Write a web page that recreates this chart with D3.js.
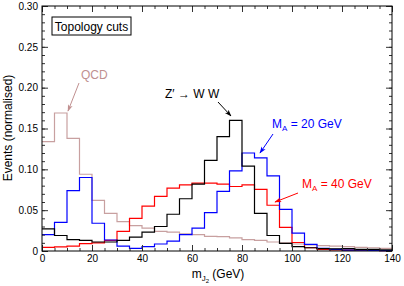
<!DOCTYPE html>
<html>
<head>
<meta charset="utf-8">
<script src="https://cdn.jsdelivr.net/npm/d3@7"></script>
<style>
body { margin: 0; background: #fff; }
svg { font-family: "Liberation Sans", Arial, sans-serif; }
</style>
</head>
<body>
<svg id="chart" width="404" height="286"></svg>
<script>
// bin edges 0..140 GeV, 5 GeV bins
const binEdges = d3.range(0, 145, 5)
const qcd  = [0.134,0.169,0.138,0.094,0.062,0.046,0.036,0.031,0.028,0.024,0.023,0.021,0.020,0.018,0.0175,0.016,0.014,0.013,0.011,0.010,0.0086,0.0075,0.0065,0.006,0.0053,0.0045,0.004,0.0033]
const zpww = [0.027,0.019,0.014,0.013,0.011,0.011,0.013,0.017,0.023,0.030,0.045,0.064,0.082,0.111,0.140,0.160,0.104,0.046,0.019,0.0094,0.0053,0.004,0.003,0.0025,0.003,0.002,0.002,0.0015]
const ma20 = [0.020,0.035,0.074,0.090,0.034,0.0135,0.006,0.0033,0.0053,0.0086,0.012,0.020,0.028,0.047,0.073,0.098,0.120,0.114,0.092,0.051,0.022,0.008,0.0033,0.002,0.001,0.001,0.0008,0.0005]
const ma40 = [0.0045,0.005,0.006,0.009,0.010,0.013,0.024,0.040,0.055,0.067,0.077,0.081,0.083,0.083,0.082,0.079,0.081,0.0755,0.056,0.029,0.0104,0.004,0.002,0.0015,0.001,0.001,0.0008,0.0005]
const xTicks = [0,20,40,60,80,100,120,140]
const yTicks = [0,0.05,0.10,0.15,0.20,0.25,0.30]

const margin = { top: 6, right: 12, bottom: 35, left: 42 }
const W = 404, H = 286
const svg = d3.select('#chart')

const x = d3.scaleLinear().domain([0, 140]).range([margin.left, W - margin.right])
const y = d3.scaleLinear().domain([0, 0.30]).range([H - margin.bottom, margin.top])

const defs = svg.append('defs')
function marker(id, color){
  defs.append('marker')
    .attr('id', id)
    .attr('viewBox', '0 0 10 10')
    .attr('refX', 9).attr('refY', 5)
    .attr('markerWidth', 7).attr('markerHeight', 7)
    .attr('markerUnits', 'userSpaceOnUse')
    .attr('orient', 'auto')
    .append('path')
      .attr('d', 'M0,1.5 L10,5 L0,8.5 L2.5,5 Z')
      .attr('fill', color)
}
marker('a-qcd', '#c09090')
marker('a-blk', '#000')
marker('a-blue', '#0000ff')
marker('a-red', '#ff0000')

// histograms
const line = d3.line()
  .x(d => x(d[0]))
  .y(d => y(d[1]))
  .curve(d3.curveStepAfter)

function hist(vals, color){
  const pts = vals.map((v, i) => [binEdges[i], v])
  pts.push([binEdges[vals.length], vals[vals.length - 1]])
  svg.append('path')
    .attr('d', line(pts))
    .attr('fill', 'none')
    .attr('stroke', color)
    .attr('stroke-width', 1.2)
}
hist(qcd, '#c8a0a0')
hist(ma40, '#ff0000')
hist(ma20, '#0000ff')
hist(zpww, '#000')

// axes, ticks inward on all sides
const x0 = x.range()[0], x1 = x.range()[1]
const y0 = y.range()[0], y1 = y.range()[1]
const minorX = d3.range(0, 141, 5)
const minorY = d3.range(0, 0.301, 0.01)
const yFmt = d => d === 0 ? '0' : d3.format('.2f')(d)

function axes(){
  const g = svg.append('g').attr('font-size', 12)
  g.append('g').attr('transform', `translate(0,${y0})`)
    .call(d3.axisBottom(x).tickValues(minorX).tickSize(-3).tickFormat(''))
  g.append('g').attr('transform', `translate(0,${y0})`)
    .call(d3.axisBottom(x).tickValues(xTicks).tickSize(-6).tickPadding(4).tickFormat(d3.format('d')))
  g.append('g').attr('transform', `translate(0,${y1})`)
    .call(d3.axisTop(x).tickValues(minorX).tickSize(-3).tickFormat(''))
  g.append('g').attr('transform', `translate(0,${y1})`)
    .call(d3.axisTop(x).tickValues(xTicks).tickSize(-6).tickFormat(''))
  g.append('g').attr('transform', `translate(${x0},0)`)
    .call(d3.axisLeft(y).tickValues(minorY).tickSize(-3).tickFormat(''))
  g.append('g').attr('transform', `translate(${x0},0)`)
    .call(d3.axisLeft(y).tickValues(yTicks).tickSize(-6).tickPadding(4).tickFormat(yFmt))
  g.append('g').attr('transform', `translate(${x1},0)`)
    .call(d3.axisRight(y).tickValues(minorY).tickSize(-3).tickFormat(''))
  g.append('g').attr('transform', `translate(${x1},0)`)
    .call(d3.axisRight(y).tickValues(yTicks).tickSize(-6).tickFormat(''))
  g.selectAll('.domain').remove()
  g.selectAll('text').attr('fill', '#000').attr('font-family', '"Liberation Sans", Arial, sans-serif')
  g.selectAll('line').attr('stroke', '#333')
}
axes()

svg.append('rect')
  .attr('x', x0).attr('y', y1)
  .attr('width', x1 - x0).attr('height', y0 - y1)
  .attr('fill', 'none').attr('stroke', '#000').attr('stroke-width', 1)

// axis titles
const xt = svg.append('text')
  .attr('x', 218).attr('y', 278)
  .attr('text-anchor', 'middle')
  .attr('font-size', 12)
xt.append('tspan').text('m')
xt.append('tspan').attr('font-size', 8).attr('dy', 3).text('J')
xt.append('tspan').attr('font-size', 6).attr('dy', 2).text('2')
xt.append('tspan').attr('dy', -5).text(' (GeV)')

svg.append('text')
  .attr('transform', 'translate(12,128) rotate(-90)')
  .attr('text-anchor', 'middle')
  .attr('font-size', 12)
  .text('Events (normalised)')

// label box
svg.append('rect')
  .attr('x', 52).attr('y', 17).attr('width', 79).attr('height', 18)
  .attr('fill', '#fff').attr('stroke', '#000').attr('stroke-width', 1)
svg.append('text')
  .attr('x', 91.5).attr('y', 30.5)
  .attr('text-anchor', 'middle')
  .attr('font-size', 12)
  .text('Topology cuts')

// annotations
function arrow(xa, ya, xb, yb, color, id){
  svg.append('line')
    .attr('x1', xa).attr('y1', ya).attr('x2', xb).attr('y2', yb)
    .attr('stroke', color).attr('stroke-width', 1)
    .attr('marker-end', `url(#${id})`)
}

svg.append('text').attr('x', 81).attr('y', 79).attr('font-size', 12)
  .attr('fill', '#c09090').text('QCD')
arrow(79, 83, 68, 111, '#c09090', 'a-qcd')

svg.append('text').attr('x', 165).attr('y', 98).attr('font-size', 12)
  .text('Z\u2032 \u2192 W W')
arrow(218, 102, 231, 116, '#000', 'a-blk')

function massLabel(xp, yp, txt, color){
  const t = svg.append('text').attr('x', xp).attr('y', yp)
    .attr('font-size', 12).attr('fill', color)
  t.append('tspan').text('M')
  t.append('tspan').attr('font-size', 8).attr('dy', 3).text('A')
  t.append('tspan').attr('dy', -3).text(' = ' + txt)
}
massLabel(272, 128, '20 GeV', '#0000ff')
arrow(273, 134, 260, 153, '#0000ff', 'a-blue')
massLabel(302, 188, '40 GeV', '#ff0000')
arrow(298, 193, 275, 202, '#ff0000', 'a-red')
</script>
</body>
</html>
